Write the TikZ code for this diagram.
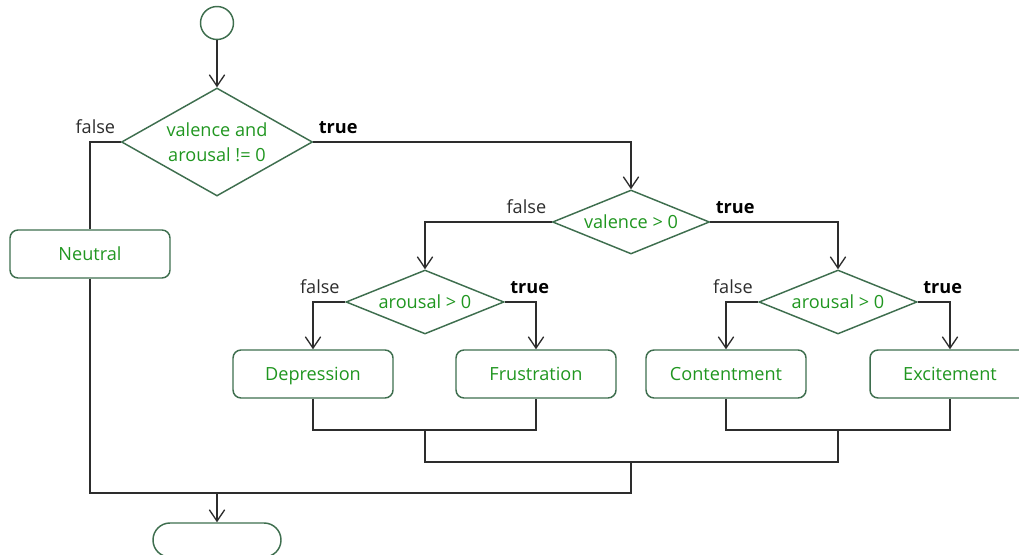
\documentclass[tikz,border=0pt]{standalone}
\usepackage{fontspec}
\setmainfont{Open Sans}
\usetikzlibrary{shapes.geometric,arrows.meta}
\definecolor{boxline}{RGB}{62,110,78}
\definecolor{boxtext}{RGB}{32,150,32}
\definecolor{wirecol}{RGB}{45,45,45}

\begin{document}
\begin{tikzpicture}[x=0.75pt,y=-0.75pt,
  every node/.style={font=\fontsize{13.6}{18.5}\selectfont},
  stepbox/.style={draw=boxline, line width=1.1pt, rounded corners=6pt,
    minimum width=120pt, minimum height=36pt, text=boxtext, inner sep=0pt,
    text height=10pt, text depth=0pt},
  test/.style={draw=boxline, line width=1.1pt, diamond, inner sep=0pt,
    text=boxtext, align=center},
  wire/.style={draw=wirecol, line width=1pt},
  arr/.style={wire, -{Straight Barb[length=8.5pt,width=11.5pt]}},
  nolabel/.style={anchor=base east, inner sep=0pt, text=wirecol,
    xshift=-4pt, yshift=6.5pt},
  yeslabel/.style={anchor=base west, inner sep=0pt, text=black,
    font=\fontsize{13.6}{18.5}\selectfont\bfseries, xshift=4pt, yshift=6.5pt}
]
\clip (0,0) rectangle (1019,555);

% start and end terminals
\node[circle, draw=boxline, line width=1.1pt, minimum size=24.75pt, inner sep=0pt] (start) at (217,23) {};
\node[draw=boxline, line width=1.1pt, rounded corners=12.7pt,
  minimum width=96pt, minimum height=25.5pt, inner sep=0pt] (stop) at (217,540) {};

% decisions
\node[test, aspect=1.77, minimum width=143.25pt, minimum height=81pt] (q1) at (217,142) {valence and\\arousal != 0};
\node[test, aspect=2.45, minimum width=117.75pt, minimum height=48pt] (q2) at (631,222) {valence > 0};
\node[test, aspect=2.45, minimum width=118.5pt, minimum height=48pt] (q3) at (425,302) {arousal > 0};
\node[test, aspect=2.45, minimum width=118.5pt, minimum height=48pt] (q4) at (838,302) {arousal > 0};

% outcomes
\node[stepbox] (neutral) at (90,254) {Neutral};
\node[stepbox] (dep) at (313,374) {Depression};
\node[stepbox] (frus) at (536,374) {Frustration};
\node[stepbox] (cont) at (726,374) {Contentment};
\node[stepbox] (exc) at (950,374) {Excitement};

% branch labels
\node[nolabel] (f1) at (q1.west) {false};
\node[yeslabel] (t1) at (q1.east) {true};
\node[nolabel] (f2) at (q2.west) {false};
\node[yeslabel] (t2) at (q2.east) {true};
\node[nolabel] (f3) at (q3.west) {false};
\node[yeslabel] (t3) at (q3.east) {true};
\node[nolabel] (f4) at (q4.west) {false};
\node[yeslabel] (t4) at (q4.east) {true};

% merge points
\coordinate (j1) at (425,430);
\coordinate (j2) at (838,430);
\coordinate (m) at (631,462);
\coordinate (e) at (217,493);

% flow
\draw[arr] (start.south) -- (q1.north);
\draw[wire] (q1.west) -| (neutral.north);
\draw[arr] (q1.east) -| (q2.north);
\draw[arr] (q2.west) -| (q3.north);
\draw[arr] (q2.east) -| (q4.north);
\draw[arr] (q3.west) -| (dep.north);
\draw[arr] (q3.east) -| (frus.north);
\draw[arr] (q4.west) -| (cont.north);
\draw[arr] (q4.east) -| (exc.north);

\draw[wire] (dep.south) |- (j1) -| (frus.south);
\draw[wire] (cont.south) |- (j2) -| (exc.south);
\draw[wire] (j1) |- (m) -| (j2);
\draw[wire] (neutral.south) |- (e) -| (m);
\draw[arr] (e) -- (stop.north);
\end{tikzpicture}
\end{document}
